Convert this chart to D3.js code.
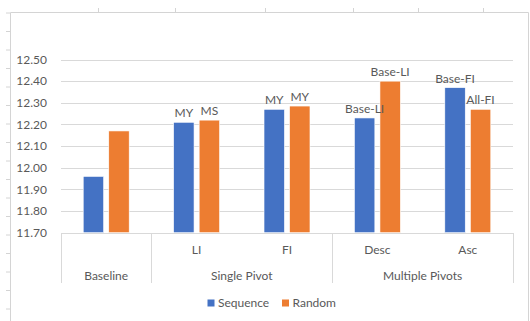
<!DOCTYPE html>
<html>
<head>
<meta charset="utf-8">
<script src="https://cdn.jsdelivr.net/npm/d3@7/dist/d3.min.js"></script>
<style>
  html, body { margin: 0; padding: 0; background: #fff; }
  svg { display: block; font-family: Lato, "Open Sans", sans-serif; }
</style>
</head>
<body>
<svg id="chart" width="530" height="321"></svg>
<script>
// Categories (two-level axis) and series
const categories = ["Baseline", "LI", "FI", "Desc", "Asc"];
const groups = [
  { name: "Baseline", from: 0, to: 1 },
  { name: "Single Pivot", from: 1, to: 3 },
  { name: "Multiple Pivots", from: 3, to: 5 }
];
const seriesNames = ["Sequence", "Random"];
const sequenceValues = [11.96, 12.21, 12.27, 12.23, 12.37];
const randomValues = [12.17, 12.22, 12.285, 12.40, 12.27];
const sequenceLabels = ["", "MY", "MY", "Base-LI", "Base-FI"];
const randomLabels = ["", "MS", "MY", "Base-LI", "All-FI"];
const yTicks = [11.70, 11.80, 11.90, 12.00, 12.10, 12.20, 12.30, 12.40, 12.50];

const colors = { Sequence: "#4472C4", Random: "#ED7D31" };
const textColor = "#595959";
const gridColor = "#D9D9D9";

const svg = d3.select("#chart");

// Surrounding sheet frame with row / column tick marks
const frame = svg.append("g").attr("stroke", "#D4D4D4").attr("fill", "none");
frame.append("path").attr("d", "M10.5,321 V12.5 H528.5 V321");
d3.range(13, 321, 18.5).forEach(y => {
  frame.append("line").attr("x1", 6).attr("x2", 10).attr("y1", y).attr("y2", y);
});
[98, 175, 265, 353, 418, 483].forEach(x => {
  frame.append("line").attr("x1", x + 0.5).attr("x2", x + 0.5).attr("y1", 8).attr("y2", 12);
});

const plot = { left: 61, right: 513, top: 59.5, bottom: 232.7 };

const y = d3.scaleLinear().domain([11.7, 12.5]).range([plot.bottom, plot.top]);
const x0 = d3.scaleBand().domain(categories).range([plot.left, plot.right]).padding(0);
const x1 = d3.scaleBand().domain(seriesNames).range([0, x0.bandwidth()])
  .paddingInner(0.2).paddingOuter(0.87);

// Gridlines
svg.append("g").selectAll("line").data(yTicks.slice(1)).join("line")
  .attr("x1", plot.left).attr("x2", plot.right)
  .attr("y1", d => Math.round(y(d)) + 0.5).attr("y2", d => Math.round(y(d)) + 0.5)
  .attr("stroke", gridColor).attr("stroke-width", 1);

// Y axis tick labels
const yAxis = d3.axisLeft(y).tickValues(yTicks).tickFormat(d3.format(".2f")).tickSize(0).tickPadding(14);
const yg = svg.append("g").attr("transform", `translate(${plot.left},0)`).call(yAxis);
yg.select(".domain").remove();
yg.selectAll("text").attr("fill", textColor).style("font-size", "12px")
  .style("font-family", "Lato, 'Open Sans', sans-serif");

// Bars
const rows = categories.map((c, i) => ({
  cat: c,
  items: [
    { s: "Sequence", v: sequenceValues[i], label: sequenceLabels[i] },
    { s: "Random", v: randomValues[i], label: randomLabels[i] }
  ]
}));

const cg = svg.append("g").selectAll("g").data(rows).join("g")
  .attr("transform", d => `translate(${x0(d.cat)},0)`);

cg.selectAll("rect").data(d => d.items).join("rect")
  .attr("x", d => x1(d.s))
  .attr("width", x1.bandwidth())
  .attr("y", d => y(d.v))
  .attr("height", d => y(11.7) - y(d.v))
  .attr("fill", d => colors[d.s])
  .attr("stroke", "#fff").attr("stroke-width", 0.6);

cg.selectAll("text").data(d => d.items.filter(it => it.label)).join("text")
  .attr("x", d => x1(d.s) + x1.bandwidth() / 2)
  .attr("y", d => y(d.v) - 5)
  .attr("text-anchor", "middle")
  .attr("fill", textColor).style("font-size", "12px")
  .text(d => d.label);

// Category axis: baseline, group dividers, labels
const ax = svg.append("g");
ax.append("line")
  .attr("x1", plot.left).attr("x2", plot.right)
  .attr("y1", Math.round(plot.bottom) + 0.5).attr("y2", Math.round(plot.bottom) + 0.5)
  .attr("stroke", gridColor);

const dividerX = [0, 1, 3, 5].map(i => i < categories.length ? x0(categories[i]) : plot.right);
ax.selectAll("line.div").data(dividerX).join("line").attr("class", "div")
  .attr("x1", d => Math.round(d) + 0.5).attr("x2", d => Math.round(d) + 0.5)
  .attr("y1", Math.round(plot.bottom)).attr("y2", 283)
  .attr("stroke", gridColor);

ax.selectAll("text.cat").data(categories.slice(1)).join("text").attr("class", "cat")
  .attr("x", d => x0(d) + x0.bandwidth() / 2)
  .attr("y", 253.5)
  .attr("text-anchor", "middle").attr("fill", textColor).style("font-size", "12px")
  .text(d => d);

ax.selectAll("text.grp").data(groups).join("text").attr("class", "grp")
  .attr("x", d => (x0(categories[d.from]) + (d.to < categories.length ? x0(categories[d.to]) : plot.right)) / 2)
  .attr("y", 279.5)
  .attr("text-anchor", "middle").attr("fill", textColor).style("font-size", "12px")
  .text(d => d.name);

// Legend
const legendItems = [
  { s: "Sequence", x: 207.5 },
  { s: "Random", x: 282 }
];
const lg = svg.append("g").selectAll("g").data(legendItems).join("g")
  .attr("transform", d => `translate(${d.x},299.5)`);
lg.append("rect").attr("width", 7).attr("height", 7).attr("fill", d => colors[d.s]);
lg.append("text").attr("x", 10.5).attr("y", 7.5).attr("fill", textColor)
  .style("font-size", "12px").text(d => d.s);
</script>
</body>
</html>
